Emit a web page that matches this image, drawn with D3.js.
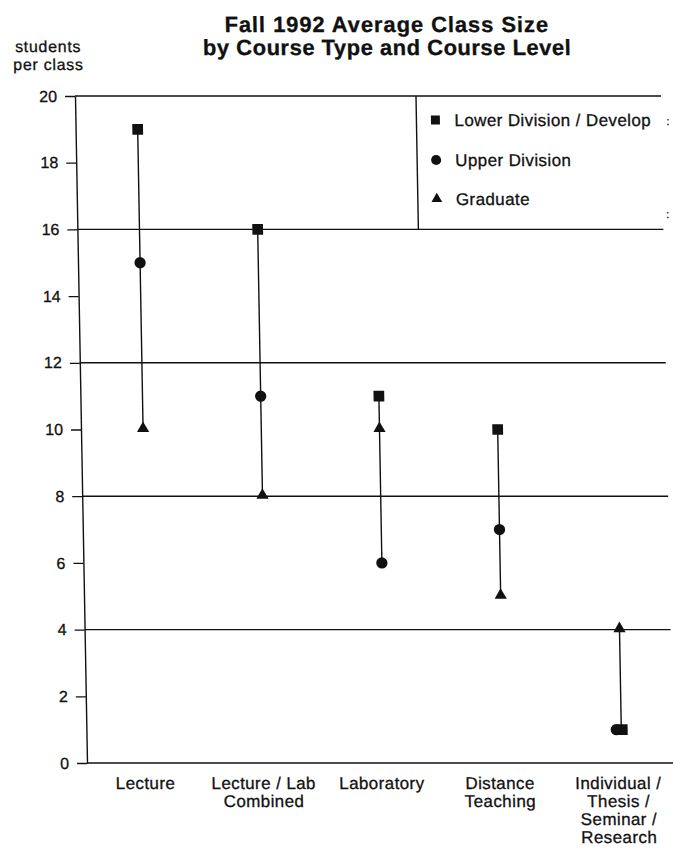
<!DOCTYPE html>
<html><head><meta charset="utf-8">
<script src="https://cdn.jsdelivr.net/npm/d3@7"></script>
<style>body{margin:0;background:#fff}svg{display:block}text{font-family:"Liberation Sans",Arial,sans-serif;fill:#111;stroke:#111;stroke-width:0.3}</style>
</head><body><svg id="c" width="674" height="849"></svg>
<script>
const categories = ["Lecture","Lecture / Lab|Combined","Laboratory","Distance|Teaching","Individual /|Thesis /|Seminar /|Research"];
const lowerDiv = [19,16,11,10,1];
const upperDiv = [15,11,6,7,1];
const graduate = [10,8,10,5,4];
const yTicks = [0,2,4,6,8,10,12,14,16,18,20];
const gridVals = [4,8,12,16,20];
const seriesNames = ["Lower Division / Develop","Upper Division","Graduate"];

const k = 0.018, y0 = 430; // slight skew of the scanned original
const svg = d3.select("#c").append("g").attr("transform",`matrix(1,0,${k},1,${-k*y0},0)`);
const x = d3.scaleBand().domain(categories).range([84,675]);
const y = d3.scaleLinear().domain([0,20]).range([763,96]);
const left = 81, right = 667;
const cx = c => x(c) + x.bandwidth()/2;
const ink = "#111";

// title
const title = ["Fall 1992 Average Class Size","by Course Type and Course Level"];
title.forEach((t,i)=>svg.append("text").attr("x",394).attr("y",32+i*23).attr("text-anchor","middle")
  .attr("font-weight","bold").attr("font-size",22).attr("letter-spacing",i==0?0.9:0.5).text(t));
["students","per class"].forEach((t,i)=>svg.append("text").attr("x",55).attr("y",52+i*18)
  .attr("text-anchor","middle").attr("font-size",16).attr("letter-spacing",0.7).text(t));

// gridlines
svg.append("g").selectAll("line").data(gridVals).join("line")
  .attr("x1",left).attr("x2",right).attr("y1",d=>y(d)).attr("y2",d=>y(d))
  .attr("stroke",ink).attr("stroke-width",1.4);
svg.append("line").attr("x1",left).attr("x2",right).attr("y1",y(0)).attr("y2",y(0)).attr("stroke",ink).attr("stroke-width",1.6);

// y axis
const yAxis = d3.axisLeft(y).tickValues(yTicks).tickSize(10).tickPadding(8).tickSizeOuter(0);
const ga = svg.append("g").attr("transform",`translate(${left},0)`).call(yAxis);
ga.select(".domain").attr("stroke",ink).attr("stroke-width",1.4);
ga.selectAll(".tick line").attr("stroke",ink).attr("stroke-width",1.3);
ga.selectAll(".tick text").attr("font-size",16).attr("font-family","Liberation Sans, Arial, sans-serif").attr("fill",ink);

// legend box
svg.append("line").attr("x1",422).attr("x2",422).attr("y1",y(20)).attr("y2",y(16)).attr("stroke",ink).attr("stroke-width",1.4);

// x labels
categories.forEach(c=>{
  const lines = c.split("|");
  const t = svg.append("text").attr("text-anchor","middle").attr("font-size",17).attr("letter-spacing",0.4);
  lines.forEach((l,i)=>t.append("tspan").attr("x",cx(c)-4).attr("y",789+i*18).text(l));
});

// range lines
const data = categories.map((c,i)=>({c, vals:[lowerDiv[i],upperDiv[i],graduate[i]]}));
svg.append("g").selectAll("line").data(data).join("line")
  .attr("x1",d=>cx(d.c)).attr("x2",d=>cx(d.c))
  .attr("y1",d=>y(d3.max(d.vals))).attr("y2",d=>y(d3.min(d.vals)))
  .attr("stroke",ink).attr("stroke-width",1.4);

const sym = [d3.symbolSquare, d3.symbolCircle, d3.symbolTriangle];
const sizes = [115, 100, 65];
const seriesArr = [lowerDiv, upperDiv, graduate];
const dodge = [[0,0,0],[0,0,0],[0,0,0],[0,0,0],[1,-5,0]];
seriesArr.forEach((s,j)=>{
  svg.append("g").selectAll("path").data(categories).join("path")
    .attr("d", d3.symbol().type(sym[j]).size(sizes[j]))
    .attr("transform",(c,i)=>`translate(${cx(c)+dodge[i][j]},${y(s[i]) + (j==2?-1:0)})`)
    .attr("fill",ink);
});

// legend items
const ly = [126,166,205];
seriesNames.forEach((n,j)=>{
  svg.append("path").attr("d",d3.symbol().type(sym[j]).size(j==2?50:80)).attr("transform",`translate(441,${ly[j]-6})`).attr("fill",ink);
  svg.append("text").attr("x",460).attr("y",ly[j]).attr("font-size",17).attr("letter-spacing",0.4).text(n);
});
svg.append("text").attr("x",672).attr("y",125).attr("font-size",11).text(":");
svg.append("text").attr("x",670).attr("y",218).attr("font-size",11).text(":");
</script></body></html>
